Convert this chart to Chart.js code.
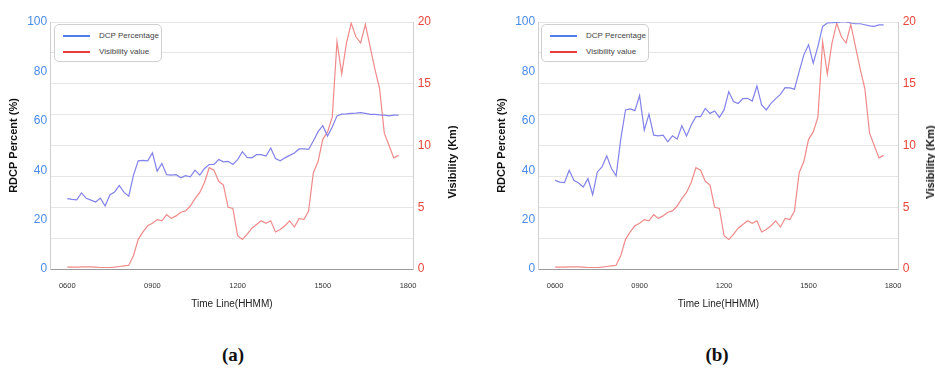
<!DOCTYPE html>
<html>
<head>
<meta charset="utf-8">
<script src="https://cdn.jsdelivr.net/npm/chart.js@4.4.1/dist/chart.umd.min.js"></script>
<style>
  body {
    margin: 0;
    width: 935px;
    height: 370px;
    overflow: hidden;
    background: #fff;
    position: relative;
    font-family: "Liberation Sans", Arial, sans-serif;
  }
  .panel { position: absolute; top: 0; height: 312px; }
  #panel-a { left: 0; width: 467px; }
  #panel-b { left: 465px; width: 480px; }
  .legend {
    position: absolute;
    top: 24px;
    width: 106px;
    height: 36px;
    border: 1px solid #cfcfcf;
    border-radius: 5px;
    background: #fff;
    font-size: 8px;
    color: #444;
  }
  .legend-row { position: absolute; left: 8px; height: 10px; line-height: 10px; }
  .legend-row i { position: absolute; left: 0; top: 4px; width: 27px; height: 2px; }
  .legend-row span { position: absolute; left: 36px; white-space: nowrap; }
  .y1-title {
    position: absolute;
    font-weight: bold;
    font-size: 11px;
    color: #111;
    white-space: nowrap;
    transform: translate(-50%, -50%) rotate(-90deg);
  }
  .caption {
    position: absolute;
    top: 344px;
    font-family: "Liberation Serif", serif;
    font-weight: bold;
    font-size: 19px;
    color: #111;
    transform: translateX(-50%);
  }
</style>
</head>
<body>
<div class="panel" id="panel-a"><canvas id="chart-a" width="467" height="312"></canvas></div>
<div class="panel" id="panel-b"><canvas id="chart-b" width="480" height="312"></canvas></div>
<div class="legend" id="legend-a" style="left:54px"></div>
<div class="legend" id="legend-b" style="left:541px"></div>
<div class="y1-title" style="left:452px; top:162px">Visibility (Km)</div>
<div class="y1-title" style="left:930px; top:162px">Visibility (Km)</div>
<div class="caption" style="left:233px">(a)</div>
<div class="caption" style="left:717px">(b)</div>

<script>
const times = [
  "0600", "0610", "0620", "0630", "0640", "0650", "0700", "0710", "0720", "0730",
  "0740", "0750", "0800", "0810", "0820", "0830", "0840", "0850", "0900", "0910",
  "0920", "0930", "0940", "0950", "1000", "1010", "1020", "1030", "1040", "1050",
  "1100", "1110", "1120", "1130", "1140", "1150", "1200", "1210", "1220", "1230",
  "1240", "1250", "1300", "1310", "1320", "1330", "1340", "1350", "1400", "1410",
  "1420", "1430", "1440", "1450", "1500", "1510", "1520", "1530", "1540", "1550",
  "1600", "1610", "1620", "1630", "1640", "1650", "1700", "1710", "1720", "1730",
  "1740"
];

const dcpA = [
  28.5, 28.2, 28.0, 30.8, 28.6, 27.9, 27.1, 28.7, 25.5, 30.0,
  31.2, 33.8, 31.0, 29.5, 38.0, 43.8, 44.0, 43.8, 47.0, 39.6,
  42.7, 38.2, 38.0, 38.2, 36.9, 37.8, 37.3, 40.0, 38.0, 40.7,
  42.3, 42.3, 44.3, 43.4, 43.6, 42.3, 44.3, 47.5, 45.2, 45.0,
  46.3, 46.3, 45.7, 49.0, 44.7, 43.8, 45.0, 46.0, 47.0, 48.6,
  48.6, 48.4, 51.8, 55.6, 58.0, 53.8, 57.5, 62.0, 62.7, 62.8,
  63.0, 63.1, 63.3, 63.0, 62.6, 62.6, 62.4, 62.3, 62.0, 62.3,
  62.3
];

const dcpB = [
  35.9, 35.2, 35.0, 40.0, 35.9, 34.8, 33.2, 36.6, 30.1, 39.3,
  41.3, 45.8, 40.7, 37.7, 52.8, 64.4, 64.8, 64.1, 70.2, 56.2,
  62.7, 54.2, 53.9, 54.2, 51.5, 53.9, 52.6, 58.0, 53.8, 58.3,
  61.7, 61.7, 65.0, 63.0, 64.0, 61.4, 64.4, 71.8, 67.8, 67.0,
  69.0, 69.1, 68.0, 74.1, 66.4, 64.4, 67.1, 69.0, 70.7, 73.4,
  73.3, 72.8, 79.9, 86.7, 90.8, 83.3, 90.1, 98.2, 99.6, 99.7,
  99.8, 100, 100, 99.6, 99.3, 99.3, 98.9, 98.4, 98.2, 98.8,
  98.8
];

const visibility = [
  0.15, 0.15, 0.15, 0.17, 0.17, 0.17, 0.15, 0.12, 0.12, 0.12,
  0.15, 0.2, 0.25, 0.3, 1.1, 2.4, 3.0, 3.5, 3.7, 4.0,
  3.9, 4.4, 4.1, 4.3, 4.6, 4.7, 5.1, 5.7, 6.2, 7.0,
  8.2, 8.0, 7.1, 6.8, 5.0, 4.9, 2.7, 2.4, 2.8, 3.3,
  3.6, 3.9, 3.7, 3.9, 3.0, 3.2, 3.5, 3.9, 3.4, 4.1,
  4.0, 4.7, 7.8, 8.7, 10.5, 11.1, 12.3, 18.4, 15.8, 18.3,
  19.9, 18.8, 18.3, 19.8, 18.0, 16.2, 14.6, 11.0, 10.0, 9.0,
  9.2
];

const xTickLabels = ["0600", "0900", "1200", "1500", "1800"];
const seriesNames = ["DCP Percentage", "Visibility value"];
const legendColors = ["#4f7fea", "#ea3b3b"];

function toHours(hhmm) {
  return parseInt(hhmm.slice(0, 2), 10) + parseInt(hhmm.slice(2), 10) / 60;
}

function points(values) {
  return values.map((v, i) => ({ x: toHours(times[i]), y: v }));
}

function buildLegend(id) {
  const box = document.getElementById(id);
  seriesNames.forEach((name, i) => {
    const row = document.createElement("div");
    row.className = "legend-row";
    row.style.top = (6 + i * 16) + "px";
    row.innerHTML = `<i style="background:${legendColors[i]}"></i><span>${name}</span>`;
    box.appendChild(row);
  });
}

function makeChart(canvasId, dcp, padLeft, padRight) {
  return new Chart(document.getElementById(canvasId), {
    type: "line",
    data: {
      datasets: [
        {
          label: seriesNames[0],
          data: points(dcp),
          yAxisID: "y",
          borderColor: "#8282ea",
          borderWidth: 1.2,
          pointRadius: 0,
          tension: 0,
        },
        {
          label: seriesNames[1],
          data: points(visibility),
          yAxisID: "y1",
          borderColor: "#f08a8a",
          borderWidth: 1.2,
          pointRadius: 0,
          tension: 0,
        },
      ],
    },
    options: {
      responsive: false,
      animation: false,
      layout: { padding: { left: padLeft, right: padRight, top: 22, bottom: 2 } },
      plugins: { legend: { display: false }, tooltip: { enabled: false } },
      scales: {
        x: {
          type: "linear",
          min: 5.4,
          max: 18.2,
          afterBuildTicks: (scale) => {
            scale.ticks = xTickLabels.map((t) => ({ value: toHours(t) }));
          },
          ticks: {
            padding: 12,
            color: "#333",
            font: { family: "Liberation Sans", size: 7.5 },
            callback: (value) => xTickLabels.find((t) => toHours(t) === value) || "",
            maxRotation: 0,
          },
          grid: { display: false, drawTicks: false },
          border: { color: "#9a9a9a", dash: [3, 2] },
          title: {
            display: true,
            text: "Time Line(HHMM)",
            color: "#222",
            font: { family: "Liberation Sans", size: 10 },
            padding: { top: -4, bottom: 0 },
          },
        },
        y: {
          position: "left",
          min: 0,
          max: 100,
          ticks: {
            stepSize: 20,
            padding: 3,
            color: "#4a8be6",
            font: { family: "Liberation Sans", size: 12 },
          },
          grid: { display: false, drawTicks: false },
          border: { color: "#cfcfcf" },
          title: {
            display: true,
            text: "RDCP Percent (%)",
            color: "#111",
            font: { family: "Liberation Sans", size: 11, weight: "bold" },
            padding: { top: 4, bottom: 4 },
          },
        },
        y1: {
          position: "right",
          min: 0,
          max: 20,
          ticks: {
            stepSize: 2.5,
            padding: 4,
            color: "#e8453c",
            font: { family: "Liberation Sans", size: 12 },
            callback: (value) => (value % 5 === 0 ? value : ""),
          },
          grid: { color: "#e6e6e6", drawTicks: false },
          border: { color: "#cfcfcf" },
        },
      },
    },
  });
}

buildLegend("legend-a");
buildLegend("legend-b");
makeChart("chart-a", dcpA, 3, 32);
makeChart("chart-b", dcpB, 26, 25);
</script>
</body>
</html>
